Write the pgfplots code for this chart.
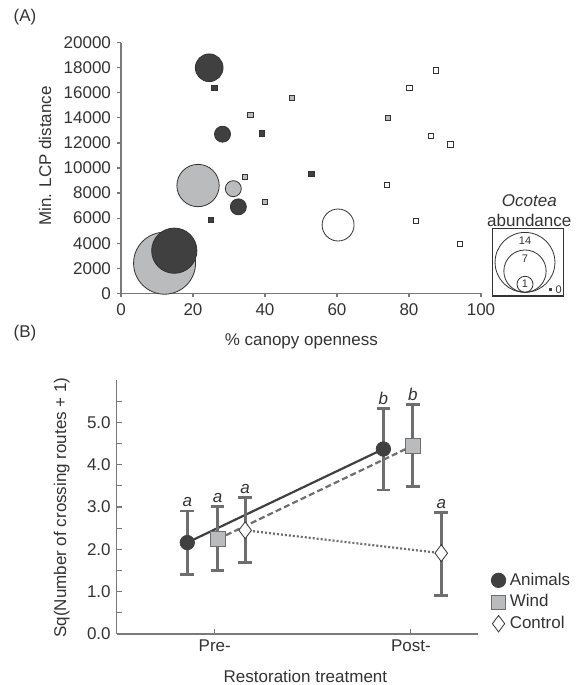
\documentclass[border=0pt]{standalone}
\usepackage{fontspec}
\setmainfont{Liberation Sans}
\usepackage{pgfplots}
\usepackage{pgfplotstable}
\pgfplotsset{compat=1.18}

\definecolor{txt}{HTML}{333333}
\definecolor{axgray}{HTML}{7A7A7A}
\definecolor{dk}{HTML}{404040}
\definecolor{lt}{HTML}{BABBBD}
\definecolor{errc}{HTML}{6E6E6E}

\pgfplotsset{
  /pgf/number format/assume math mode=true,
  every axis/.append style={
    scale only axis,
    axis lines*=left,
    axis line style={axgray, line width=0.6pt, -},
    every tick/.style={axgray, line width=0.6pt},
    tick label style={txt},
    label style={txt},
  },
  bubble/.style={scatter, only marks, mark=*,
    scatter/use mapped color={draw=txt, fill=#1},
    visualization depends on={4*sqrt(\thisrow{n}) \as \rad},
    scatter/@pre marker code/.append style={/tikz/mark size=\rad},
    line width=0.4pt},
  zero/.style={only marks, mark=square*, mark size=1.35pt,
    mark options={draw=txt, fill=#1, line width=0.35pt}},
  err/.style={
    error bars/y dir=both, error bars/y explicit,
    error bars/error bar style={errc, line width=1.4pt, solid},
    error bars/error mark options={errc, rotate=90, mark size=3.4pt, line width=1.4pt}},
  letters/.style={only marks, mark=none, nodes near coords, point meta=explicit symbolic,
    every node near coord/.append style={txt, font=\itshape, anchor=south, inner sep=1.8pt}},
}

% panel A: bubbles (x = % canopy openness, y = min. LCP distance, n = abundance)
\pgfplotstableread{
x y n
12.1 2400 15
21.4 8600 7
31.2 8350 1
}\windbub
\pgfplotstableread{
x y n
14.8 3400 8
24.5 18000 3
28.2 12700 1
32.6 6900 1
}\animbub
\pgfplotstableread{
x y n
60.3 5450 4
}\ctrlbub
\pgfplotstableread{
x y
25.9 16400
39.2 12750
24.9 5850
52.9 9550
}\animzero
\pgfplotstableread{
x y
47.4 15600
35.9 14250
34.4 9300
40.0 7300
74.2 14000
}\windzero
\pgfplotstableread{
x y
87.4 17800
80.1 16400
86.0 12550
91.5 11900
73.8 8650
81.9 5770
94.2 3930
}\ctrlzero

% panel B: mean, upper and lower error, letter, top of bar
\pgfplotstableread{
x y ep em lab top
0.86 2.16 0.745 0.75 a 2.905
1.86 4.37 0.96 0.97 b 5.33
}\animals
\pgfplotstableread{
x y ep em lab top
1.015 2.24 0.77 0.74 a 3.01
2.01 4.45 0.97 0.97 b 5.42
}\wind
\pgfplotstableread{
x y ep em lab top
1.155 2.45 0.77 0.76 a 3.22
2.155 1.91 0.96 1.0 a 2.87
}\control

\begin{document}
\fontsize{8.5pt}{10pt}\selectfont
\begin{tikzpicture}
\useasboundingbox (0,0) rectangle (290pt,342.5pt);

\node[txt] at (12.5pt,334pt) {(A)};
\node[txt] at (12.5pt,176pt) {(B)};

\begin{axis}[
  at={(60.5pt,195.85pt)}, anchor=south west,
  width=180pt, height=125.3pt,
  xmin=0, xmax=100, ymin=0, ymax=20000,
  xtick={0,20,...,100}, ytick={0,2000,...,20000},
  tick align=outside, major tick length=2pt,
  scaled ticks=false,
  yticklabel style={/pgf/number format/1000 sep={}},
  xlabel={\% canopy openness},
  ylabel={Min. LCP distance},
  xlabel style={at={(axis description cs:0.501,-0.19)}, anchor=center},
  ylabel style={at={(axis description cs:-0.211,0.548)}, anchor=center, rotate=0},
  clip=false,
]
\addplot[bubble=lt] table[x=x,y=y] {\windbub};
\addplot[bubble=dk] table[x=x,y=y] {\animbub};
\addplot[bubble=white] table[x=x,y=y] {\ctrlbub};
\addplot[zero=dk] table[x=x,y=y] {\animzero};
\addplot[zero=lt] table[x=x,y=y] {\windzero};
\addplot[zero=white] table[x=x,y=y] {\ctrlzero};
\end{axis}

% bubble size key
\draw[txt, line width=0.6pt] (246.35pt,194.5pt) rectangle (281.65pt,228.35pt);
\draw[txt, line width=0.4pt] (262.5pt,211.32pt) circle (14.97pt);
\draw[txt, line width=0.4pt] (262.5pt,206.93pt) circle (10.58pt);
\draw[txt, line width=0.4pt] (262.5pt,200.35pt) circle (4pt);
\node[txt, font=\fontsize{5.5pt}{6pt}\selectfont] at (262.5pt,222.3pt) {14};
\node[txt, font=\fontsize{5.5pt}{6pt}\selectfont] at (262.5pt,213pt) {7};
\node[txt, font=\fontsize{5.5pt}{6pt}\selectfont] at (262.5pt,200.5pt) {1};
\fill[dk] (274.5pt,197pt) rectangle (276.2pt,198.7pt);
\node[txt, font=\fontsize{5.5pt}{6pt}\selectfont] at (279.3pt,197.85pt) {0};
\node[txt] at (264.65pt,242pt) {\itshape Ocotea};
\node[txt] at (264.65pt,232.3pt) {abundance};

\begin{axis}[
  at={(58.35pt,25.5pt)}, anchor=south west,
  width=180.8pt, height=127pt,
  xmin=0.5, xmax=2.344, ymin=0, ymax=6,
  xtick={1,2}, xticklabels={Pre-,Post-},
  ytick={0,1,...,5}, minor ytick={0.5,1.5,...,5.5},
  yticklabel style={/pgf/number format/.cd, fixed, fixed zerofill, precision=1},
  tick align=inside, major tick length=2.4pt, minor tick length=2.4pt,
  xlabel={Restoration treatment},
  ylabel={Sq(Number of crossing routes + 1)},
  xlabel style={at={(axis description cs:0.522,-0.168)}, anchor=center},
  ylabel style={at={(axis description cs:-0.152,0.498)}, anchor=center},
  clip=false,
  legend style={draw=none, fill=none, at={(axis description cs:1.035,0.126)},
    anchor=west, inner sep=0pt, row sep=-0.6pt,
    font=\color{txt}\fontsize{8.5pt}{10pt}\selectfont,
    /tikz/every even column/.append style={column sep=0pt}},
  legend cell align=left,
  legend image code/.code={\draw[#1] plot coordinates {(0pt,0pt)};},
]
\addlegendimage{only marks, mark=*, mark size=3.6pt, mark options={draw=dk, fill=dk}}
\addlegendentry{Animals}
\addlegendimage{only marks, mark=square*, mark size=3.5pt, mark options={draw=errc, fill=lt, line width=0.4pt}}
\addlegendentry{Wind}
\addlegendimage{only marks, mark=diamond*, mark size=4.1pt, mark options={draw=txt, fill=white, line width=0.4pt}}
\addlegendentry{Control}

\addplot[forget plot, dk, line width=1.1pt, no marks] table[x=x,y=y] {\animals};
\addplot[forget plot, errc, line width=1.1pt, dash pattern=on 3pt off 1.6pt, no marks] table[x=x,y=y] {\wind};
\addplot[forget plot, errc, line width=1.1pt, dash pattern=on 1pt off 1pt, no marks] table[x=x,y=y] {\control};

\addplot[forget plot, only marks, err, mark=*, mark size=3.6pt, mark options={draw=dk, fill=dk}]
  table[x=x, y=y, y error plus=ep, y error minus=em] {\animals};
\addplot[forget plot, only marks, err, mark=square*, mark size=3.7pt, mark options={draw=errc, fill=lt, line width=0.4pt}]
  table[x=x, y=y, y error plus=ep, y error minus=em] {\wind};
\addplot[forget plot, only marks, err, mark=diamond*, mark size=4.2pt, mark options={draw=txt, fill=white, line width=0.4pt}]
  table[x=x, y=y, y error plus=ep, y error minus=em] {\control};

\addplot[forget plot, letters] table[x=x, y=top, meta=lab] {\animals};
\addplot[forget plot, letters] table[x=x, y=top, meta=lab] {\wind};
\addplot[forget plot, letters] table[x=x, y=top, meta=lab] {\control};
\end{axis}
\end{tikzpicture}
\end{document}
